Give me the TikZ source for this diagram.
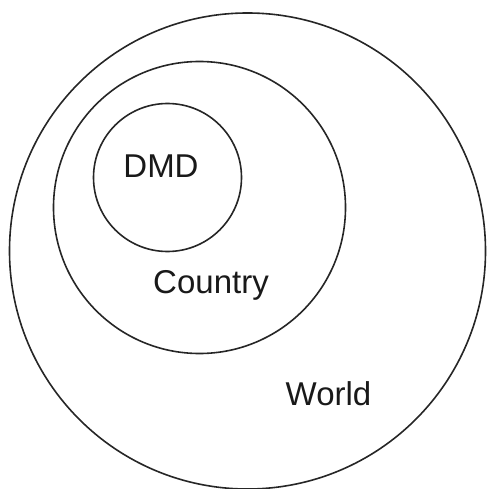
\documentclass[tikz,border=0pt]{standalone}
\usepackage{fontspec}
\setmainfont{Liberation Sans}
\begin{document}
\begin{tikzpicture}[x=1pt,y=-1pt,
  ring/.style={draw=black!85, line width=1.6pt, circle, inner sep=0pt},
  lbl/.style={anchor=base, inner sep=0pt, text=black!90, font=\fontsize{33}{38}\selectfont}]
\useasboundingbox (0,0) rectangle (487,489);
\node[ring, minimum size=476pt] (world) at (247.5,251) {};
\node[ring, minimum size=292pt] (country) at (199.5,207.5) {};
\node[ring, minimum size=148pt] (dmd) at (167.5,177.5) {};
\node[lbl] (tdmd) at (161,177) {DMD};
\node[lbl] (tcountry) at (211,293) {Country};
\node[lbl] (tworld) at (328.5,405) {World};
\end{tikzpicture}
\end{document}
